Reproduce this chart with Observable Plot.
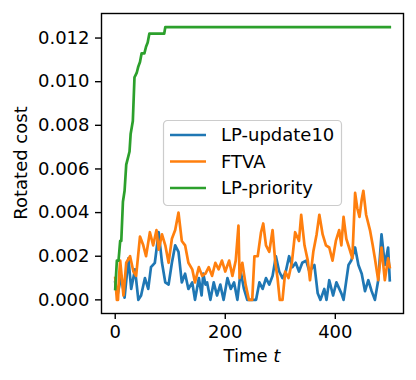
<!DOCTYPE html>
<html><head><meta charset="utf-8">
<script src="https://cdn.jsdelivr.net/npm/d3@7"></script>
<script src="https://cdn.jsdelivr.net/npm/@observablehq/plot@0.6"></script>
<style>body{margin:0;background:#fff} #chart{width:416px;height:380px}</style>
</head><body><div id="chart"></div>
<script>
// ---- data ----
const seriesNames = ["LP-update10", "FTVA", "LP-priority"];
const seriesColors = ["#1f77b4", "#ff7f0e", "#2ca02c"];

const tBlue = [0,4,11,17,24,29,36,42,47,54,60,65,72,79,85,91,97,103,109,115,121,127,133,140,145,152,157,160,164,167,173,179,185,191,197,204,210,216,222,228,234,240,246,256,262,268,274,280,286,292,298,304,310,316,322,328,334,340,347,353,362,368,373,380,384,389,396,402,411,415,424,429,436,442,448,454,460,466,472,478,484,490,496,499];
const blue = [0.0008,0.0002,0.0011,0.0001,0.0019,0.0005,0.0014,0,0.0002,0.001,0.0005,0.0015,0.0017,0.0031,0.0017,0.0008,0.0007,0.0017,0.0025,0.0022,0.0008,0.0012,0.0005,0.0008,0,0.001,0.0002,0.0012,0.0007,0.0008,0,0.0008,0.0002,0.0007,0,0.001,0.0005,0.0008,0,0.0013,0.0005,0,0,0,0.0008,0.0005,0.001,0.0007,0.0011,0.002,0.0013,0.001,0.0013,0.002,0.0015,0.0017,0.0013,0.0017,0.0018,0.0013,0.0016,0.0003,0,0.0005,0,0.0009,0.0002,0.0008,0.0003,0,0.0016,0.0018,0.0024,0.0016,0.0012,0.0004,0.0009,0.0004,0,0.0009,0.003,0.0016,0.0024,0.0009];

const tOrange = [0,3,5,7,9,15,20,27,33,38,45,51,56,63,69,75,79,85,91,97,103,109,115,121,127,133,140,145,152,158,164,170,176,182,188,194,200,207,213,219,224,226,231,237,243,249,253,259,265,269,274,280,286,291,295,299,304,309,315,321,327,334,338,344,350,354,360,366,371,377,383,389,395,401,407,411,415,420,425,431,436,440,444,448,451,456,463,468,472,478,484,490,496,499];
const orange = [0.001,0,0,0.0011,0.0018,0.0002,0.0017,0.002,0.0013,0.0011,0.0029,0.0025,0.002,0.0031,0.0025,0.0032,0.0023,0.003,0.0025,0.0017,0.0028,0.0032,0.004,0.0027,0.0025,0.0017,0.0014,0.0008,0.0015,0.0011,0.0012,0.0015,0.0011,0.0017,0.0014,0.0018,0.0013,0.0018,0.0011,0.0018,0.0034,0.001,0.0017,0.0007,0,0,0.002,0.002,0.0031,0.0035,0.0025,0.0022,0.0032,0.0017,0.001,0,0,0.0013,0.001,0.0017,0.0031,0.0027,0.0039,0.0025,0.0018,0.0009,0.0022,0.003,0.0039,0.003,0.0025,0.0024,0.0018,0.0027,0.0032,0.0025,0.0038,0.0028,0.0024,0.0019,0.0049,0.0042,0.0038,0.0046,0.005,0.0039,0.0032,0.0025,0.0019,0.0009,0.0024,0.0009,0.0019,0.0015];

const tGreen = [0,3,6,9,11,14,17,20,23,26,28,32,35,39,42,45,48,53,56,59,62,89,91,499];
const green = [0.0005,0.0018,0.0018,0.0027,0.0027,0.0045,0.005,0.0062,0.0065,0.0068,0.0076,0.0082,0.0102,0.0104,0.0107,0.0109,0.0113,0.0113,0.0116,0.0118,0.0122,0.0122,0.0125,0.0125];

const xTicks = [0, 200, 400];
const yTicks = [0, 0.002, 0.004, 0.006, 0.008, 0.010, 0.012];
const xLabel = "Time ";
const xLabelItalic = "t";
const yLabel = "Rotated cost";

// ---- build tables ----
const mk = (ts, vs, s) => ts.map((t, i) => ({t, v: vs[i], s}));
const series = [mk(tBlue, blue, 0), mk(tOrange, orange, 1), mk(tGreen, green, 2)];
const all = series.flat();
const tExt = d3.extent(all, d => d.t), vExt = d3.extent(all, d => d.v);
const tPad = 0.05 * (tExt[1] - tExt[0]), vPad = 0.05 * (vExt[1] - vExt[0]);

const W = 416, H = 380;
const font = "DejaVu Sans";
const lw = 2.7;

const plot = Plot.plot({
  width: W, height: H,
  marginLeft: 101, marginRight: 13, marginTop: 13, marginBottom: 67,
  style: {fontFamily: font, fontSize: "18px", background: "white", color: "black", overflow: "visible"},
  x: {domain: [tExt[0] - tPad, tExt[1] + tPad], label: null},
  y: {domain: [vExt[0] - vPad, vExt[1] + vPad], label: null},
  marks: [
    ...series.map((d, i) => Plot.line(d, {x: "t", y: "v", stroke: seriesColors[i], strokeWidth: lw, strokeLinejoin: "round", strokeLinecap: "square"})),
    Plot.frame({stroke: "black", strokeWidth: 1.4}),
    Plot.axisX({ticks: xTicks, tickSize: 6, tickPadding: 6, fontSize: 18, label: null, strokeWidth: 1.4, tickFormat: d3.format("d")}),
    Plot.axisY({ticks: yTicks, tickSize: 6, tickPadding: 6, fontSize: 18, label: null, strokeWidth: 1.4, tickFormat: d3.format(".3f")})
  ]
});

const svg = d3.select(plot);
const xr = plot.scale("x").range, yr = plot.scale("y").range;
const cx = (xr[0] + xr[1]) / 2, cy = (yr[0] + yr[1]) / 2;

// x label with italic t
const xl = svg.append("text").attr("x", cx).attr("y", 362).attr("text-anchor", "middle")
  .attr("font-family", font).attr("font-size", 18).attr("fill", "black");
xl.append("tspan").text(xLabel);
xl.append("tspan").attr("font-style", "italic").text(xLabelItalic);

// y label
svg.append("text").attr("transform", `translate(27,${cy}) rotate(-90)`).attr("text-anchor", "middle")
  .attr("font-family", font).attr("font-size", 18).attr("fill", "black").text(yLabel);

// legend
const lg = svg.append("g").attr("transform", "translate(163,120)");
lg.append("rect").attr("x", 0.5).attr("y", 0.5).attr("width", 178).attr("height", 85).attr("rx", 4)
  .attr("fill", "white").attr("fill-opacity", 0.8).attr("stroke", "#cccccc").attr("stroke-width", 1.2);
seriesNames.forEach((name, i) => {
  const y = 15 + i * 26.5;
  lg.append("line").attr("x1", 7).attr("x2", 43).attr("y1", y).attr("y2", y)
    .attr("stroke", seriesColors[i]).attr("stroke-width", lw);
  lg.append("text").attr("x", 58).attr("y", y).attr("dy", "0.36em").attr("text-anchor", "start")
    .attr("font-family", font).attr("font-size", 18).attr("fill", "black").text(name);
});

document.getElementById("chart").appendChild(plot);
</script>
</body></html>
